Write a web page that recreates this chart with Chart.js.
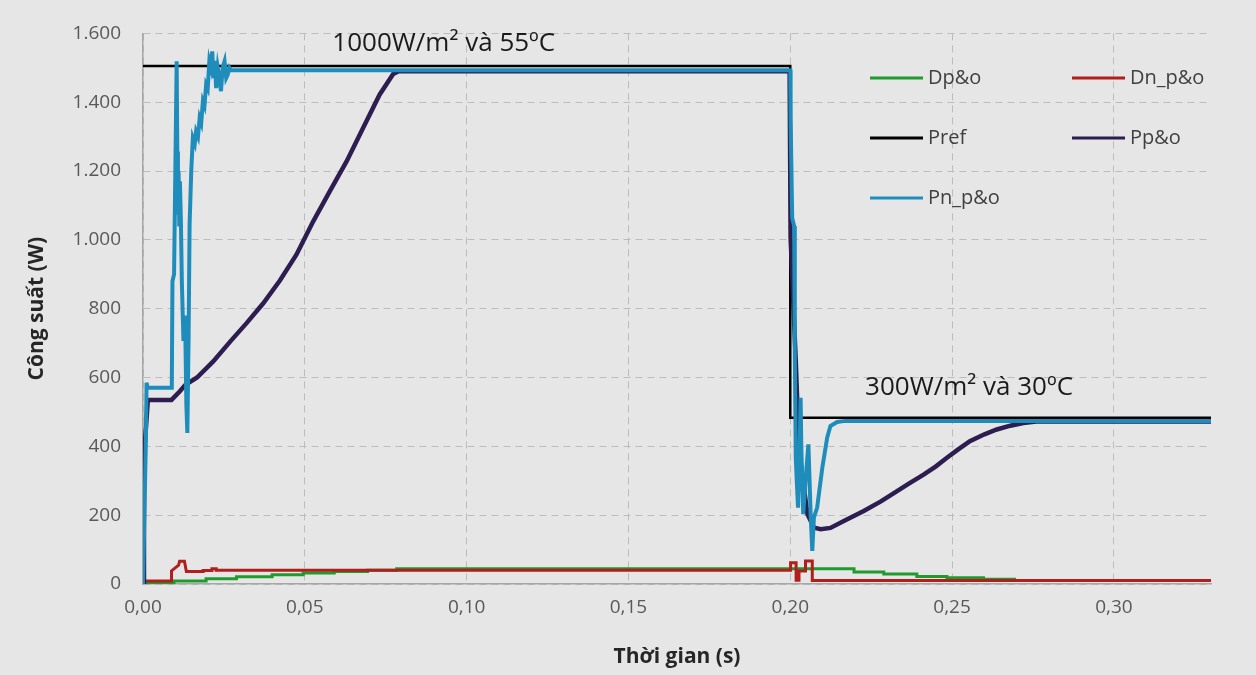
<!DOCTYPE html>
<html>
<head>
<meta charset="utf-8">
<script src="https://cdn.jsdelivr.net/npm/chart.js@4.4.1/dist/chart.umd.min.js"></script>
<style>
  html, body { margin: 0; padding: 0; background: #e6e6e6; }
</style>
</head>
<body>
<canvas id="myChart" width="1256" height="675"></canvas>
<script>
'use strict';

// time axis (s) and power/duty values
const dpoT = [0, 0.0096, 0.0096, 0.0195, 0.0195, 0.0289, 0.0289, 0.0399, 0.0399, 0.0495, 0.0495, 0.0591, 0.0591, 0.0694, 0.0694, 0.0784, 0.0784, 0.2197, 0.2197, 0.2289, 0.2289, 0.2391, 0.2391, 0.2484, 0.2484, 0.2597, 0.2597, 0.2693, 0.2693, 0.33];
const dpoP = [3, 3, 9, 9, 15, 15, 21, 21, 27, 27, 32, 32, 36, 36, 40, 40, 44, 44, 35, 35, 29, 29, 22, 22, 18, 18, 14, 14, 10, 10];

const dnT = [0, 0.0088, 0.0088, 0.0110, 0.0113, 0.0128, 0.0134, 0.0186, 0.0186, 0.0213, 0.0213, 0.0226, 0.0226, 0.2001, 0.2001, 0.2018, 0.2018, 0.2027, 0.2027, 0.2047, 0.2047, 0.2068, 0.2068, 0.33];
const dnP = [9, 9, 38, 55, 66, 66, 36, 36, 39, 39, 44, 44, 40, 40, 62, 62, 11, 11, 38, 38, 67, 67, 10, 10];

const prefT = [0, 0.2, 0.2, 0.33];
const prefP = [1505, 1505, 483, 483];

const ppoT = [0, 0.0003, 0.0015, 0.0088, 0.0114, 0.0130, 0.0167, 0.0217, 0.0270, 0.0320, 0.0371, 0.0423, 0.0474, 0.0526, 0.0577, 0.0629, 0.0680, 0.0731, 0.0773, 0.0790, 0.1998, 0.2001, 0.2017, 0.2027, 0.2053, 0.2073, 0.2094, 0.2124, 0.2170, 0.2227, 0.2280, 0.2330, 0.2370, 0.2412, 0.2450, 0.2484, 0.2520, 0.2555, 0.2600, 0.2638, 0.2680, 0.2720, 0.2760, 0.33];
const ppoP = [0, 370, 535, 535, 560, 578, 600, 647, 705, 758, 815, 882, 957, 1054, 1141, 1228, 1325, 1422, 1482, 1490, 1490, 1006, 648, 386, 203, 164, 159, 163, 185, 212, 240, 270, 294, 318, 342, 367, 392, 415, 435, 449, 460, 468, 472, 472];

const pnT = [0, 0.0009, 0.0011, 0.0014, 0.0089, 0.0091, 0.0096, 0.0104, 0.0106, 0.0108, 0.0110, 0.0112, 0.0114, 0.0117, 0.0120, 0.0125, 0.0130, 0.0134, 0.0137, 0.0141, 0.0144, 0.0149, 0.0154, 0.0160, 0.0164, 0.0170, 0.0175, 0.0180, 0.0185, 0.0190, 0.0195, 0.0200, 0.0205, 0.0210, 0.0214, 0.0218, 0.0222, 0.0226, 0.0231, 0.0236, 0.0241, 0.0246, 0.0252, 0.0257, 0.0262, 0.0267, 0.0272,
  0.2000, 0.2001, 0.2006, 0.2012, 0.2014, 0.2017, 0.2020, 0.2024, 0.2029, 0.2032, 0.2034, 0.2040, 0.2047, 0.2056, 0.2063, 0.2068, 0.2073, 0.2083, 0.2099, 0.2114, 0.2124, 0.2145, 0.2170, 0.33];
const pnP = [0, 420, 585, 570, 570, 880, 900, 1519, 1257, 1074, 1200, 1045, 1170, 1060, 880, 706, 780, 520, 439, 725, 1045, 1199, 1296, 1280, 1315, 1300, 1354, 1340, 1403, 1390, 1451, 1440, 1519, 1500, 1548, 1470, 1520, 1441, 1500, 1470, 1432, 1500, 1519, 1470, 1480, 1500, 1493,
  1493, 1354, 1064, 1040, 677, 367, 300, 222, 400, 541, 400, 203, 300, 406, 200, 96, 193, 222, 338, 425, 459, 471, 474, 474];

const seriesNames = ['Dp&o', 'Dn_p&o', 'Pref', 'Pp&o', 'Pn_p&o'];
const seriesColors = ['#1f9a2c', '#b01e1e', '#000000', '#2d1d50', '#1f8dbb'];
const xTicks = [0, 0.05, 0.10, 0.15, 0.20, 0.25, 0.30];
const yTicks = [0, 200, 400, 600, 800, 1000, 1200, 1400, 1600];
const notes = ['1000W/m² và 55ºC', '300W/m² và 30ºC'];

function pts(t, p) {
    return t.map((v, i) => ({ x: v, y: p[i] }));
}

const allT = [dpoT, dnT, prefT, ppoT, pnT];
const allP = [dpoP, dnP, prefP, ppoP, pnP];
const widths = [3, 3, 2.5, 4.5, 4];
const orders = [5, 4, 3, 2, 1];

const datasets = seriesNames.map((n, i) => ({
    label: n,
    data: pts(allT[i], allP[i]),
    borderColor: seriesColors[i],
    backgroundColor: seriesColors[i],
    borderWidth: widths[i],
    pointRadius: 0,
    tension: 0,
    fill: false,
    order: orders[i],
    borderJoinStyle: 'miter'
}));

const bgPlugin = {
    id: 'bg',
    beforeDraw(chart) {
        const c = chart.ctx;
        c.save();
        c.fillStyle = '#e6e6e6';
        c.fillRect(0, 0, chart.width, chart.height);
        c.restore();
    }
};

// legend in two columns inside the plot, plus the two condition notes
const extrasPlugin = {
    id: 'extras',
    afterDraw(chart) {
        const c = chart.ctx;
        c.save();
        c.font = '20px "Open Sans"';
        c.textBaseline = 'middle';
        c.textAlign = 'left';
        seriesNames.forEach((n, i) => {
            const col = i % 2, row = Math.floor(i / 2);
            const x0 = col === 0 ? 870 : 1072;
            const y0 = 78 + row * 60;
            c.strokeStyle = seriesColors[i];
            c.lineWidth = 3;
            c.beginPath();
            c.moveTo(x0, y0);
            c.lineTo(x0 + 53, y0);
            c.stroke();
            c.fillStyle = '#404040';
            c.fillText(n, x0 + 58, y0);
        });
        const xs = chart.scales.x, ys = chart.scales.y;
        c.font = '26px "Open Sans"';
        c.fillStyle = '#1a1a1a';
        c.fillText(notes[0], xs.getPixelForValue(0.0585), ys.getPixelForValue(1570));
        c.fillText(notes[1], xs.getPixelForValue(0.2231), ys.getPixelForValue(572));
        c.restore();
    }
};

const ctx = document.getElementById('myChart').getContext('2d');

const myChart = new Chart(ctx, {
    type: 'line',
    data: { datasets: datasets },
    plugins: [bgPlugin, extrasPlugin],
    options: {
        responsive: false,
        animation: false,
        layout: { padding: { top: 32, right: 45, left: 0, bottom: 0 } },
        plugins: {
            legend: { display: false },
            tooltip: { enabled: false }
        },
        scales: {
            x: {
                type: 'linear',
                min: 0,
                max: 0.33,
                afterFit: s => { s.height = 91; },
                afterBuildTicks: s => { s.ticks = xTicks.map(v => ({ value: v })); },
                ticks: {
                    padding: 12,
                    color: '#595959',
                    font: { family: 'Open Sans', size: 19 },
                    callback: v => v.toFixed(2).replace('.', ','),
                    maxRotation: 0
                },
                grid: { color: '#bcbcbc', drawTicks: false },
                border: { display: true, color: '#a6a6a6', width: 1.5, dash: [7, 5] },
                title: {
                    display: true,
                    text: 'Thời gian (s)',
                    color: '#262626',
                    font: { family: 'Open Sans', size: 21, weight: 'bold' },
                    padding: { top: 0, bottom: 5 }
                }
            },
            y: {
                min: 0,
                max: 1600,
                afterFit: s => { s.width = 143; },
                afterBuildTicks: s => { s.ticks = yTicks.map(v => ({ value: v })); },
                ticks: {
                    padding: 22,
                    color: '#595959',
                    font: { family: 'Open Sans', size: 19 },
                    callback: v => v >= 1000 ? Math.floor(v / 1000) + '.' + String(v % 1000).padStart(3, '0') : String(v)
                },
                grid: { color: '#bcbcbc', drawTicks: false },
                border: { display: true, color: '#a6a6a6', width: 1.5, dash: [7, 5] },
                title: {
                    display: true,
                    text: 'Công suất (W)',
                    color: '#262626',
                    font: { family: 'Open Sans', size: 21, weight: 'bold' },
                    padding: { top: 24, bottom: 0 }
                }
            }
        }
    }
});
</script>
</body>
</html>
